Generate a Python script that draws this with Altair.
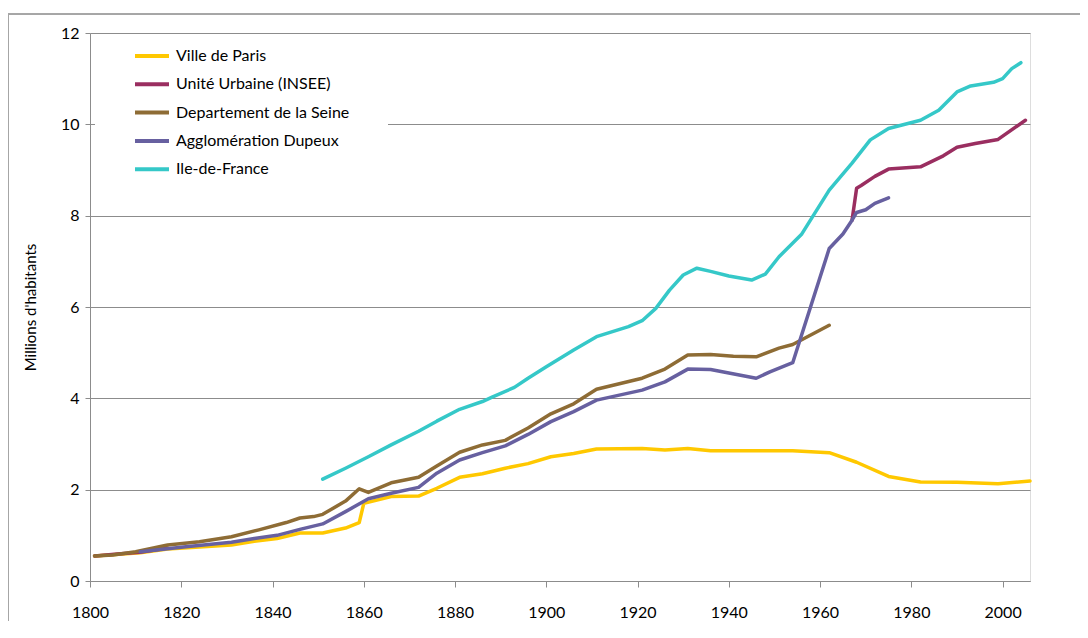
import altair as alt
import pandas as pd

# ---- data (millions of inhabitants) ----
series_names = ["Ville de Paris", "Unité Urbaine (INSEE)", "Departement de la Seine",
                "Agglomération Dupeux", "Ile-de-France"]
series_colors = ["#FFC800", "#9A2E60", "#8E6C35", "#6760A0", "#35C8C8"]

paris_years = [1801, 1811, 1817, 1831, 1836, 1841, 1846, 1851, 1856, 1859, 1860, 1866, 1872,
               1876, 1881, 1886, 1891, 1896, 1901, 1906, 1911, 1921, 1926, 1931, 1936, 1946,
               1954, 1962, 1968, 1975, 1982, 1990, 1999, 2006]
paris_vals = [0.55, 0.62, 0.70, 0.79, 0.87, 0.93, 1.05, 1.05, 1.16, 1.28, 1.70, 1.85, 1.86,
              2.03, 2.27, 2.35, 2.47, 2.57, 2.72, 2.79, 2.89, 2.90, 2.87, 2.90, 2.85, 2.85,
              2.85, 2.81, 2.60, 2.29, 2.17, 2.16, 2.13, 2.19]

uu_early_years = [1801, 1806, 1811, 1817]
uu_early_vals = [0.55, 0.59, 0.63, 0.72]
uu_years = [1967, 1968, 1969, 1972, 1975, 1982, 1987, 1990, 1994, 1999, 2005]
uu_vals = [7.90, 8.60, 8.66, 8.86, 9.02, 9.07, 9.31, 9.50, 9.58, 9.67, 10.09]

seine_years = [1801, 1805, 1810, 1817, 1824, 1831, 1837, 1843, 1846, 1849, 1851, 1856, 1859,
               1861, 1866, 1872, 1876, 1881, 1886, 1891, 1896, 1901, 1906, 1911, 1921, 1926,
               1931, 1936, 1941, 1946, 1951, 1954, 1962]
seine_vals = [0.55, 0.57, 0.64, 0.79, 0.86, 0.97, 1.12, 1.28, 1.38, 1.41, 1.46, 1.75, 2.02,
              1.94, 2.15, 2.27, 2.52, 2.82, 2.98, 3.08, 3.35, 3.66, 3.88, 4.20, 4.44, 4.64,
              4.95, 4.96, 4.92, 4.91, 5.10, 5.18, 5.60]

dupeux_years = [1811, 1821, 1831, 1836, 1841, 1846, 1851, 1856, 1861, 1866, 1872, 1876, 1881,
                1886, 1891, 1896, 1901, 1906, 1911, 1921, 1926, 1931, 1936, 1946, 1949, 1954,
                1962, 1965, 1967, 1968, 1970, 1972, 1975]
dupeux_vals = [0.64, 0.75, 0.85, 0.93, 1.00, 1.13, 1.25, 1.52, 1.80, 1.92, 2.05, 2.36, 2.65,
               2.81, 2.96, 3.21, 3.49, 3.71, 3.96, 4.18, 4.36, 4.64, 4.63, 4.44, 4.58, 4.78,
               7.28, 7.60, 7.90, 8.07, 8.13, 8.27, 8.39]

idf_years = [1851, 1856, 1861, 1866, 1872, 1876, 1881, 1886, 1888, 1893, 1896, 1900, 1906,
             1911, 1918, 1921, 1924, 1927, 1930, 1933, 1936, 1940, 1945, 1948, 1951, 1956,
             1962, 1967, 1971, 1975, 1982, 1986, 1990, 1993, 1998, 2000, 2002, 2004]
idf_vals = [2.23, 2.47, 2.72, 2.98, 3.28, 3.50, 3.76, 3.93, 4.02, 4.24, 4.44, 4.69, 5.06,
            5.35, 5.57, 5.70, 5.97, 6.37, 6.70, 6.85, 6.78, 6.68, 6.59, 6.72, 7.10, 7.60,
            8.56, 9.15, 9.66, 9.91, 10.09, 10.31, 10.71, 10.84, 10.92, 11.00, 11.22, 11.35]

x_ticks = [1800, 1820, 1840, 1860, 1880, 1900, 1920, 1940, 1960, 1980, 2000]
y_ticks = [0, 2, 4, 6, 8, 10, 12]

segments = [
    (series_names[0], "a", paris_years, paris_vals),
    (series_names[1], "a", uu_early_years, uu_early_vals),
    (series_names[1], "b", uu_years, uu_vals),
    (series_names[2], "a", seine_years, seine_vals),
    (series_names[3], "a", dupeux_years, dupeux_vals),
    (series_names[4], "a", idf_years, idf_vals),
]
rows = []
for order, (name, seg, ys, vs) in enumerate(segments):
    for yr, v in zip(ys, vs):
        rows.append({"series": name, "seg": f"{order}-{name}-{seg}", "year": yr, "value": v})
df = pd.DataFrame(rows)

FONT = "Lato"
W, H = 940, 548
GRID = "#8c8c8c"

lines = alt.Chart(df).mark_line(strokeWidth=3.5, strokeCap="round", strokeJoin="round").encode(
    x=alt.X("year:Q",
            scale=alt.Scale(domain=[1800, 2006], nice=False, zero=False),
            axis=alt.Axis(values=x_ticks, format="d", title=None, grid=False,
                          tickSize=6, tickColor=GRID, domainColor=GRID,
                          labelFlush=False, labelOverlap=False,
                          labelPadding=17, labelFontSize=16, labelFont=FONT,
                          labelColor="#000000")),
    y=alt.Y("value:Q",
            scale=alt.Scale(domain=[0, 12], nice=False),
            axis=alt.Axis(values=y_ticks, title="Millions d'habitants", grid=True,
                          gridColor=GRID, tickSize=5, tickColor=GRID, domainColor=GRID,
                          labelPadding=6, labelFontSize=16, labelFont=FONT,
                          labelColor="#000000", labelFlush=False,
                          titleFont=FONT, titleFontSize=15, titleFontWeight="normal",
                          titleColor="#000000", titleAngle=270, titleX=-60, titleY=274,
                          titleAlign="center", titleBaseline="middle")),
    color=alt.Color("series:N",
                    scale=alt.Scale(domain=series_names, range=series_colors),
                    legend=alt.Legend(orient="none", legendX=43, legendY=4, title=None,
                                      symbolType="stroke", symbolSize=1156,
                                      symbolStrokeWidth=4, labelFont=FONT,
                                      labelFontSize=16, labelColor="#000000",
                                      labelLimit=0, labelOffset=5, rowPadding=1.3)),
    detail="seg:N",
    order="year:Q",
)

legend_bg = alt.Chart(df).mark_rect(fill="white", stroke=None).encode(
    x=alt.value(5), x2=alt.value(298), y=alt.value(7), y2=alt.value(157))

frame_top = alt.Chart(df).mark_rule(color="#a6a6a6", strokeWidth=1).encode(
    x=alt.value(-82), x2=alt.value(W + 60), y=alt.value(-19))
frame_left = alt.Chart(df).mark_rule(color="#a6a6a6", strokeWidth=1).encode(
    x=alt.value(-82), y=alt.value(-19), y2=alt.value(H + 60))

chart = alt.layer(frame_top, frame_left, legend_bg, lines).properties(
    width=W, height=H,
    autosize=alt.AutoSizeParams(type="none"),
    padding={"left": 82, "top": 25, "right": 50, "bottom": 40},
).configure_view(stroke=None).configure(background="white")

chart.save("out.html", embed_options={"renderer": "svg", "actions": False})
